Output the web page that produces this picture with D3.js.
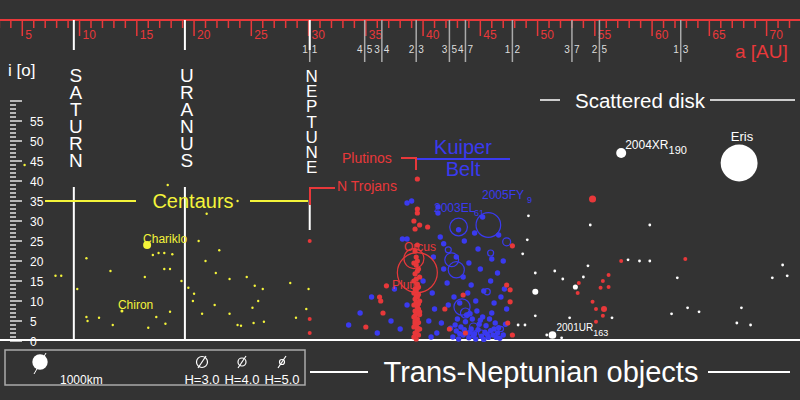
<!DOCTYPE html>
<html><head><meta charset="utf-8">
<script src="https://cdn.jsdelivr.net/npm/d3@7"></script>
<style>
body{margin:0;background:#333333;}
text{font-family:"Liberation Sans",Arial,sans-serif;}
</style></head>
<body>
<svg id="chart" width="800" height="400"></svg>
<script>
// semi-major axis ticks and inclination ticks
var aTicks = [5,10,15,20,25,30,35,40,45,50,55,60,65,70];
var iTicks = [0,5,10,15,20,25,30,35,40,45,50,55];

// mean-motion resonances with Neptune [a, left label, right label]
var resonances = [[30.1,'1','1'],[34.9,'4','5'],[36.4,'3','4'],[39.4,'2','3'],[42.3,'3','5'],[43.7,'4','7'],[47.8,'1','2'],[53.0,'3','7'],[55.4,'2','5'],[62.5,'1','3']];

// planets [a, name]
var planets = [[9.5,'SATURN'],[19.2,'URANUS'],[30.1,'NEPTUNE']];

// centaurs [a, i]
var centaurs = [[5.2,44],[7.9,16.3],[8.4,16.3],[9.8,13],[10.6,6],[10.7,5],[10.6,20.7],[11.7,5.8],[12.7,17.5],[12.9,4],
  [15.7,16],[16,3.3],[16.4,21.5],[16.9,22],[17.4,22],[18.1,21.7],[17.4,18],[17.9,18],[16.7,6],[17.5,4.3],[17.9,7.3],
  [17.7,39],[18.9,15],[19.5,13.3],[20,11.8],[19.9,10],[20.4,25],[20.7,6.8],[21,20],[21.1,31.8],[21.8,9],[21.9,17],
  [22.2,22.7],[23.1,6.8],[23.1,15.5],[23.8,35],[23.8,4],[24.1,3.8],[24.6,16],[25.1,8.3],[25.2,4.5],[25.3,13.8],
  [25.6,10],[26,13],[26.1,4.8],[28.4,14.5],[28.9,5.8],[29.8,8],[30,13]];
var centaurNamed = [['Chiron',13.7,7.5,0],['Chariklo',15.9,24,4]];

// Neptune trojans [a, i]
var trojans = [[30.1,25],[30.1,5.5],[30.1,2]];

// plutinos and other resonant objects [a, i]
var plutinos = [[39.4,0.5],[39.2,1],[39.6,1.5],[39.3,2],[39.5,2.6],[39.7,3],[39.2,3.5],[39.4,4],[39.6,4.6],[39.3,5],
  [39.5,5.5],[39.2,6],[39.7,6.6],[39.4,7],[39.3,7.5],[39.6,8],[39.5,8.5],[39.2,9],[39.4,9.6],[39.7,10],[39.3,10.5],
  [39.5,11],[39.6,11.6],[39.2,12],[39.4,12.5],[39.3,13],[39.6,13.5],[39.5,14.2],[39.2,15],[39.4,15.5],[39.7,16],
  [39.3,16.8],[39.5,17.5],[39.6,18],[39.4,19],[39.2,19.5],[39.5,20],[39.4,21],[39.3,22.5],[39.5,24],[39.3,28],
  [39.2,30],[39.7,29],[40.4,28.5],[39.5,32],[39.5,33],[39.5,40.5],[39.4,1.8],[39.5,3.3],[39.3,6.3],[39.6,9.3],
  [39.4,11.3],[39.5,13.3],[39.3,4.4],[39.7,7.3],
  [36.8,13.8],[36.2,11],[36.3,10],[36.5,7],[35,3.5],[47.8,23.8],[47.6,12.8],[47.3,14],[43.5,11.5],[47.6,9.8],
  [41.9,8],[47.4,4.5],[42.3,3],[43.7,2],[47.8,1.5]];
var plutinoNamed = [['Orcus',39.2,20.6,1300],['Pluto',39.5,17.1,2600]];

// scattered red (resonant scattered) [a, i]
var sdoRed = [[57.3,20],[62.9,20.5],[56.2,16.5],[55.7,15],[53.6,14.5],[53.5,12],[55.5,13.3],[56.2,13.5],[54.8,9.8],
  [55.1,8],[55.7,6.3],[55.1,4.8]];
var sdoRedBig = [[54.8,35.5,460],[55.8,8,390]];

// classical Kuiper belt [a, i]
var classical = [[42.6,1],[42.9,2.5],[43.1,0.5],[43.3,3.5],[43.5,1.5],[43.7,4.8],[43.9,2],[44,0.8],[44.2,3],[44.3,5.5],
  [44.5,1.8],[44.6,0.5],[44.8,2.8],[44.9,4.2],[45.1,1.2],[45.2,6],[45.4,2.2],[45.5,3.8],[45.7,0.9],[45.9,2.6],[46.1,1.5],
  [46.3,4.5],[46.5,2],[46.7,0.7],[43,5.5],[42.8,4],[44.1,6.8],[44.7,7.5],[45,5.2],[45.8,5.5],[46,7],[46.6,3.3],[47,1.5],
  [47.2,4.2],[42.4,3.2],[43.6,2.8],[44.4,1.3],[45.3,0.4],[46.2,3],[43.8,6.5],[43.2,1.8],[44.1,2.2],[45.6,1.7],[46.4,0.9],
  [42.2,9],[42.7,11],[43.2,9.5],[43.9,12],[44.6,10],[45.3,12.5],[46.2,9.5],[46.8,11],[47.3,8],[42.1,14.5],[43.5,16],
  [44.2,14],[45,18],[45.9,15],[46.5,17],[47.1,13],[41.8,18],[42.9,21],[44,19.5],[44.8,23],[46,20.5],[47,20],[43.6,25],
  [44.5,27],[46.6,26.5],[45.2,31],[41.3,32],[41.5,26],[40.9,21],[41.8,24.3],[43.1,27.8],[38.6,25.5],[38.6,34.5],
  [39,35],[41.3,33.5],[36,2],[37.2,5],[38,3],[38.6,9],[37.5,13],[40.5,5],[41,8],[40.8,12],[41.2,2],[41.6,4.5],
  [33.5,4],[34.5,7],[35.5,11],[38.2,25.5],[40,15],[40.7,1]];
// large classical objects [a, i, diameter km]
var classicalBig = [[45.7,29,1600],[43.1,28.5,1150],[47.3,24.8,520],[42.5,20.3,900],[42.9,17.8,1050],[45.6,12.3,400],
  [43.4,8.5,1050],[43.7,7,650],[45.9,22,390],[42.2,22.8,390],[44.4,3.5,520],[45.1,2,390],[46.8,3,330]];

// scattered disk [a, i]
var sdo = [[49.2,31.3],[49.1,25.3],[48.7,21.8],[49.8,17],[49.8,6.3],[48.9,4],[48.3,4],[51.5,17.5],[52.2,15.5],[54,16],
  [54.4,18.8],[54.6,29],[59.8,29],[57.9,20.3],[58.9,20],[59.8,20],[62.2,15.8],[61.7,6.8],[63.1,8.3],[64.1,7.3],[67.8,8.3],
  [67.4,4.5],[68.6,4],[70.5,15.8],[71.4,19],[71.8,16.3],[52.8,5.8],[56.5,5.8],[50.8,1.5],[52.1,0.8]];
var sdoBig = [[49.8,12.3,390],[53.3,13.5,330]];
var sdoNamed = [['Eris',67.6,44.5,2400],['2004XR','190',57.3,47,650],['2001UR','163',51.3,1.5,500]];

var svg = d3.select('#chart');
var W = 800, H = 400;
var red = '#e8383a', blue = '#3a3af0', yel = '#f4f43a', grey = '#aaaaaa';

var x = d3.scaleLinear().domain([5,70]).range([22.3,766.6]);
var y = d3.scaleLinear().domain([0,55]).range([341,121]);
var rad = function(d) { return d / 130; };

// top a axis
svg.append('line').attr('x1',0).attr('x2',W).attr('y1',20).attr('y2',20).attr('stroke',red).attr('stroke-width',2);
svg.append('g').selectAll('line').data(d3.range(3,74)).enter().append('line')
	.attr('x1',(d) => x(d)).attr('x2',(d) => x(d)).attr('y1',20)
	.attr('y2',(d) => d % 5 == 0 ? 36 : 28).attr('stroke',red).attr('stroke-width',1.5);
svg.append('g').selectAll('text').data(aTicks).enter().append('text')
	.attr('x',(d) => x(d)+3).attr('y',39).attr('fill',red).attr('font-size',12).text((d) => d);
svg.append('text').attr('x',735).attr('y',58).attr('fill',red).attr('font-size',19).text('a [AU]');

// resonances
resonances.forEach(function(r) {
	svg.append('line').attr('x1',x(r[0])).attr('x2',x(r[0])).attr('y1',20).attr('y2',62)
		.attr('stroke',grey).attr('stroke-width',1.5);
	svg.append('text').attr('x',x(r[0])-2).attr('y',53).attr('text-anchor','end').attr('fill','#ddd').attr('font-size',10).text(r[1]);
	svg.append('text').attr('x',x(r[0])+2).attr('y',53).attr('fill','#ddd').attr('font-size',10).text(r[2]);
});

// planets
planets.forEach(function(p, k) {
	var px = x(p[0]);
	svg.append('line').attr('x1',px).attr('x2',px).attr('y1',20).attr('y2',50).attr('stroke','#fff').attr('stroke-width',2);
	if (k < 2) {
		svg.append('line').attr('x1',px).attr('x2',px).attr('y1',187).attr('y2',340).attr('stroke','#fff').attr('stroke-width',2);
	} else {
		svg.append('line').attr('x1',px).attr('x2',px).attr('y1',200).attr('y2',230).attr('stroke','#fff').attr('stroke-width',2);
	}
	var step = k < 2 ? 17 : 15.2;
	p[1].split('').forEach(function(c, j) {
		svg.append('text').attr('x',px+2).attr('y',82+j*step).attr('text-anchor','middle')
			.attr('fill','#fff').attr('font-size',k < 2 ? 19 : 17).text(c);
	});
});

// i axis
svg.append('g').selectAll('line').data(d3.range(0,61)).enter().append('line')
	.attr('x1',10).attr('x2',(d) => d % 5 == 0 ? 22 : 16).attr('y1',(d) => y(d)).attr('y2',(d) => y(d))
	.attr('stroke','#fff').attr('stroke-width',1.3);
svg.append('g').selectAll('text').data(iTicks).enter().append('text')
	.attr('x',30).attr('y',(d) => y(d)+5).attr('fill','#fff').attr('font-size',12).text((d) => d);
svg.append('text').attr('x',8).attr('y',76).attr('fill','#fff').attr('font-size',17).text('i [o]');

// baseline
svg.append('line').attr('x1',0).attr('x2',W).attr('y1',340).attr('y2',340).attr('stroke','#fff').attr('stroke-width',2);

// region labels
svg.append('line').attr('x1',45).attr('x2',136).attr('y1',y(35)).attr('y2',y(35)).attr('stroke',yel).attr('stroke-width',2);
svg.append('line').attr('x1',250).attr('x2',308).attr('y1',y(35)).attr('y2',y(35)).attr('stroke',yel).attr('stroke-width',2);
svg.append('text').attr('x',193).attr('y',y(35)+7).attr('text-anchor','middle').attr('fill',yel).attr('font-size',20).text('Centaurs');

svg.append('path').attr('d','M335,188H310V205').attr('fill','none').attr('stroke',red).attr('stroke-width',2);
svg.append('text').attr('x',337).attr('y',191).attr('fill',red).attr('font-size',14).text('N Trojans');
svg.append('path').attr('d','M401,158H416V170').attr('fill','none').attr('stroke',red).attr('stroke-width',2);
svg.append('text').attr('x',342).attr('y',163).attr('fill',red).attr('font-size',14).text('Plutinos');
svg.append('line').attr('x1',417).attr('x2',510).attr('y1',159).attr('y2',159).attr('stroke',blue).attr('stroke-width',2);
svg.append('text').attr('x',463).attr('y',154).attr('text-anchor','middle').attr('fill',blue).attr('font-size',20).text('Kuiper');
svg.append('text').attr('x',463).attr('y',176).attr('text-anchor','middle').attr('fill',blue).attr('font-size',20).text('Belt');

svg.append('line').attr('x1',540).attr('x2',560).attr('y1',100).attr('y2',100).attr('stroke','#ccc').attr('stroke-width',2);
svg.append('line').attr('x1',710).attr('x2',795).attr('y1',100).attr('y2',100).attr('stroke','#ccc').attr('stroke-width',2);
svg.append('text').attr('x',640).attr('y',108).attr('text-anchor','middle').attr('fill','#fff').attr('font-size',20.5).text('Scattered disk');

// points
function dots(data, color, r) {
	svg.append('g').selectAll('circle').data(data).enter().append('circle')
		.attr('cx',(d) => x(d[0])).attr('cy',(d) => y(d[1]))
		.attr('r',(d) => d[2] ? rad(d[2]) : r).attr('fill',color);
}
function rings(data, color) {
	svg.append('g').selectAll('circle').data(data).enter().append('circle')
		.attr('cx',(d) => x(d[0])).attr('cy',(d) => y(d[1])).attr('r',(d) => rad(d[2]))
		.attr('fill','none').attr('stroke',color).attr('stroke-width',1.2);
}
dots(centaurs, yel, 1.2);
dots(classical, blue, 2.7);
rings(classicalBig, blue);
dots(trojans, red, 2);
dots(plutinos, red, 2.6);
dots(sdoRed, red, 2);
dots(sdoRedBig, red);
dots(sdo, '#fff', 1.4);
dots(sdoBig, '#fff');

// named objects
centaurNamed.forEach(function(c) {
	svg.append('circle').attr('cx',x(c[1])).attr('cy',y(c[2])).attr('r',c[3] || 1.5).attr('fill',yel);
	svg.append('text').attr('x',x(c[1])-4).attr('y',y(c[2])-2).attr('fill',yel).attr('font-size',12).text(c[0]);
});
plutinoNamed.forEach(function(c) {
	svg.append('circle').attr('cx',x(c[1])).attr('cy',y(c[2])).attr('r',rad(c[3]))
		.attr('fill','none').attr('stroke',red).attr('stroke-width',1.2);
});
svg.append('text').attr('x',404).attr('y',y(20.6)-8).attr('fill',red).attr('font-size',12).text('Orcus');
svg.append('text').attr('x',392).attr('y',y(17.1)+16).attr('fill',red).attr('font-size',12).text('Pluto');
svg.append('text').attr('x',434).attr('y',212).attr('fill',blue).attr('font-size',12).text('2003EL');
svg.append('text').attr('x',474).attr('y',216).attr('fill',blue).attr('font-size',9).text('61');
svg.append('text').attr('x',482).attr('y',199).attr('fill',blue).attr('font-size',12).text('2005FY');
svg.append('text').attr('x',527).attr('y',203).attr('fill',blue).attr('font-size',9).text('9');

svg.append('circle').attr('cx',x(67.6)).attr('cy',y(44.5)).attr('r',rad(2400)).attr('fill','#fff');
svg.append('text').attr('x',742).attr('y',141).attr('text-anchor','middle').attr('fill','#fff').attr('font-size',13).text('Eris');
sdoNamed.slice(1).forEach(function(c) {
	svg.append('circle').attr('cx',x(c[2])).attr('cy',y(c[3])).attr('r',rad(c[4])).attr('fill','#fff');
	var t = svg.append('text').attr('x',x(c[2])+4).attr('y',y(c[3])-4).attr('fill','#fff').attr('font-size',c[1] == '190' ? 12 : 10).text(c[0]);
	t.append('tspan').attr('dy',5).attr('font-size',c[1] == '190' ? 11 : 9).text(c[1]);
});

// legend
svg.append('rect').attr('x',5).attr('y',350).attr('width',300).attr('height',35)
	.attr('fill','none').attr('stroke','#aaa').attr('stroke-width',1.5);
svg.append('circle').attr('cx',40).attr('cy',362).attr('r',rad(1000)).attr('fill','#fff');
svg.append('line').attr('x1',34).attr('x2',46).attr('y1',374).attr('y2',353).attr('stroke','#fff').attr('stroke-width',1);
svg.append('text').attr('x',60).attr('y',384).attr('fill','#fff').attr('font-size',12).text('1000km');
[['H=3.0',5.5,202],['H=4.0',4,242],['H=5.0',2.5,282]].forEach(function(h) {
	svg.append('circle').attr('cx',h[2]).attr('cy',362).attr('r',h[1]).attr('fill','none').attr('stroke','#fff').attr('stroke-width',1.2);
	svg.append('line').attr('x1',h[2]-4).attr('x2',h[2]+4).attr('y1',368).attr('y2',356).attr('stroke','#fff').attr('stroke-width',1.2);
	svg.append('text').attr('x',h[2]).attr('y',384).attr('text-anchor','middle').attr('fill','#fff').attr('font-size',13).text(h[0]);
});

svg.append('line').attr('x1',310).attr('x2',368).attr('y1',372).attr('y2',372).attr('stroke','#fff').attr('stroke-width',2);
svg.append('line').attr('x1',708).attr('x2',790).attr('y1',372).attr('y2',372).attr('stroke','#fff').attr('stroke-width',2);
svg.append('text').attr('x',541).attr('y',382).attr('text-anchor','middle').attr('fill','#fff').attr('font-size',29).text('Trans-Neptunian objects');
</script>
</body></html>
